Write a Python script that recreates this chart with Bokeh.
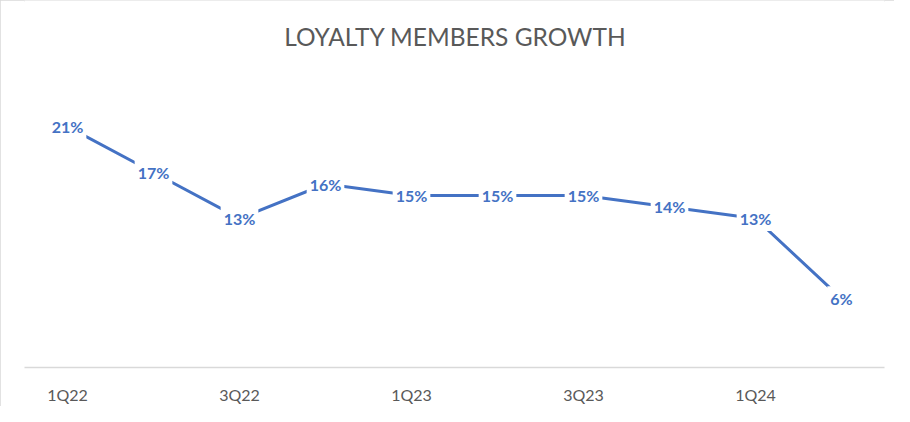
from bokeh.plotting import figure
from bokeh.models import ColumnDataSource, FixedTicker, Range1d, Label
from bokeh.core.properties import value
from bokeh.embed import file_html
from bokeh.resources import INLINE

chart_title = "LOYALTY MEMBERS GROWTH"
quarters = ["1Q22", "2Q22", "3Q22", "4Q22", "1Q23", "2Q23", "3Q23", "4Q23", "1Q24", "2Q24"]
growth = [21, 17, 13, 16, 15, 15, 15, 14, 13, 6]
growth_labels = ["21%", "17%", "13%", "16%", "15%", "15%", "15%", "14%", "13%", "6%"]
tick_positions = [0, 2, 4, 6, 8]

idx = list(range(len(quarters)))
src = ColumnDataSource(dict(x=idx, y=growth, lab=growth_labels))

W, H = 894, 406
FL, FR, FT, FB = 24, 10, 0, 38
# frame spans the full height above the axis; top of range leaves room for the title
p = figure(width=W, height=H, output_backend="svg", toolbar_location=None,
           x_range=Range1d(-0.5, len(quarters) - 0.5), y_range=Range1d(0, 32),
           y_axis_location=None, tools="",
           min_border_left=FL, min_border_right=FR, min_border_top=FT, min_border_bottom=FB)
p.styles = {"outline": "2px solid #D9D9D9", "outline-offset": "-2px"}

p.grid.visible = False
p.outline_line_color = None
p.background_fill_color = "white"
p.border_fill_color = "white"

xa = p.xaxis[0]
xa.ticker = FixedTicker(ticks=tick_positions)
xa.major_label_overrides = {i: quarters[i] for i in tick_positions}
xa.axis_line_color = "#D9D9D9"
xa.axis_line_width = 1.5
xa.major_tick_line_color = None
xa.minor_tick_line_color = None
xa.major_tick_out = 0
xa.major_tick_in = 0
xa.minor_tick_out = 0
xa.minor_tick_in = 0
xa.axis_label = None
xa.major_label_text_font = "Lato"
xa.major_label_text_font_size = "16px"
xa.major_label_text_color = "#595959"
xa.major_label_standoff = 17

title_lbl = Label(x=4.51, y=28.85, x_units="data", y_units="data",
                  text=chart_title, text_align="center", text_baseline="middle",
                  text_font="Lato", text_font_size="24.5px", text_color="#595959")
p.add_layout(title_lbl)

p.line("x", "y", source=src, line_color="#4472C4", line_width=3)
p.text("x", "y", text="lab", source=src, text_align="center", text_baseline="middle",
       text_font=value("Lato"), text_font_style="bold", text_font_size="16px",
       text_color="#4472C4", background_fill_color="white", padding=3)

open("out.html", "w").write(file_html(p, INLINE))
